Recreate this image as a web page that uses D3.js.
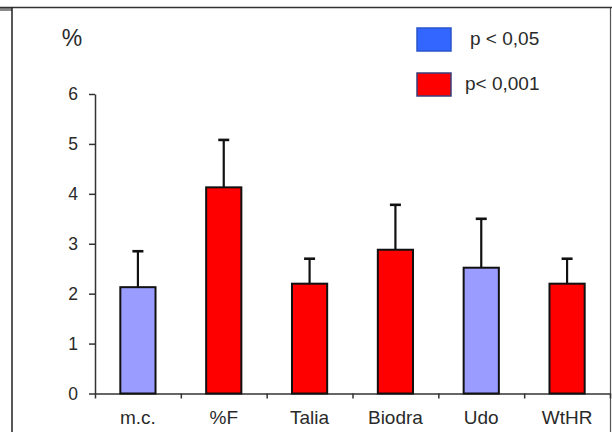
<!DOCTYPE html>
<html>
<head>
<meta charset="utf-8">
<script src="https://cdn.jsdelivr.net/npm/d3@7/dist/d3.min.js"></script>
<style>
  html, body { margin: 0; padding: 0; background: #fff; }
  svg { display: block; }
  text { font-family: "Liberation Sans", Arial, sans-serif; fill: #2a2a2a; }
</style>
</head>
<body>
<svg id="chart" width="612" height="432"></svg>
<script>
// ---- data ----
const categories = ["m.c.", "%F", "Talia", "Biodra", "Udo", "WtHR"];
const values     = [2.13, 4.13, 2.20, 2.88, 2.52, 2.20];
const errors     = [0.72, 0.95, 0.50, 0.90, 0.98, 0.50];
const groups     = ["p05", "p001", "p001", "p001", "p05", "p001"];
const yTicks     = [0, 1, 2, 3, 4, 5, 6];
const legendLabels = ["p < 0,05", "p< 0,001"];
const legendKeys   = ["p05", "p001"];

// ---- styles ----
const barFill   = { p05: "#9a9cff", p001: "#ff0000" };
const legFill   = { p05: "#3366ff", p001: "#ff0000" };
const legStroke = { p05: "#2a55cc", p001: "#3a3f7a" };

const svg = d3.select("#chart");

// frame
svg.append("rect").attr("x", 0).attr("y", 7).attr("width", 12).attr("height", 4).attr("fill", "#8a8a8a");
svg.append("line").attr("x1", 0).attr("x2", 612).attr("y1", 7.5).attr("y2", 7.5)
  .attr("stroke", "#333").attr("stroke-width", 1.5);
svg.append("line").attr("x1", 12).attr("x2", 12).attr("y1", 7).attr("y2", 432)
  .attr("stroke", "#222").attr("stroke-width", 1.5);
svg.append("line").attr("x1", 610.5).attr("x2", 610.5).attr("y1", 8).attr("y2", 432)
  .attr("stroke", "#555").attr("stroke-width", 1.2);

// scales
const pLeft = 95, pRight = 610, pTop = 94, pBottom = 393.5;
const x = d3.scaleBand().domain(categories).range([pLeft, pRight]).padding(0);
const xIdx = d3.scaleLinear().domain([0, categories.length]).range([pLeft, pRight]);
const y = d3.scaleLinear().domain([0, 6]).range([pBottom, pTop]);

// y axis
const yAxis = svg.append("g").attr("transform", `translate(${pLeft},0)`)
  .call(d3.axisLeft(y).tickValues(yTicks).tickSize(6).tickSizeOuter(0).tickPadding(11).tickFormat(d3.format("d")));
yAxis.select(".domain").attr("stroke", "#333").attr("stroke-width", 1.5);
yAxis.selectAll(".tick line").attr("stroke", "#333").attr("stroke-width", 1.5);
yAxis.selectAll(".tick text").style("font-size", "17.5px").style("fill", "#2a2a2a")
  .style("font-family", '"Liberation Sans", Arial, sans-serif');

// x axis (boundary ticks)
const xAxis = svg.append("g").attr("transform", `translate(0,${pBottom})`)
  .call(d3.axisBottom(xIdx).tickValues(d3.range(0, categories.length + 1)).tickSize(5).tickSizeOuter(0).tickFormat(""));
xAxis.select(".domain").attr("stroke", "#333").attr("stroke-width", 1.5);
xAxis.selectAll(".tick line").attr("stroke", "#333").attr("stroke-width", 1.5);

// x labels
svg.append("g").selectAll("text").data(categories).join("text")
  .attr("x", d => x(d) + x.bandwidth() / 2)
  .attr("y", 424)
  .attr("text-anchor", "middle")
  .style("font-size", "19px")
  .text(d => d);

// bars
const bw = x.bandwidth() * 0.41;
const bars = svg.append("g");
bars.selectAll("line.err").data(categories).join("line").attr("class", "err")
  .attr("x1", d => x(d) + x.bandwidth() / 2)
  .attr("x2", d => x(d) + x.bandwidth() / 2)
  .attr("y1", (d, i) => y(values[i]))
  .attr("y2", (d, i) => y(values[i] + errors[i]))
  .attr("stroke", "#111").attr("stroke-width", 2.2);
bars.selectAll("line.cap").data(categories).join("line").attr("class", "cap")
  .attr("x1", d => x(d) + x.bandwidth() / 2 - 5.5)
  .attr("x2", d => x(d) + x.bandwidth() / 2 + 5.5)
  .attr("y1", (d, i) => y(values[i] + errors[i]))
  .attr("y2", (d, i) => y(values[i] + errors[i]))
  .attr("stroke", "#111").attr("stroke-width", 2.6);
bars.selectAll("rect").data(categories).join("rect")
  .attr("x", d => x(d) + (x.bandwidth() - bw) / 2)
  .attr("width", bw)
  .attr("y", (d, i) => y(values[i]))
  .attr("height", (d, i) => y(0) - y(values[i]))
  .attr("fill", (d, i) => barFill[groups[i]])
  .attr("stroke", "#111").attr("stroke-width", 2);

// y unit label
svg.append("text").attr("x", 72).attr("y", 46).attr("text-anchor", "middle")
  .style("font-size", "23px").text("%");

// legend
const leg = svg.append("g");
const legY = [28, 73];
leg.selectAll("rect").data(legendKeys).join("rect")
  .attr("x", 417).attr("y", (d, i) => legY[i]).attr("width", 34).attr("height", 23)
  .attr("fill", d => legFill[d]).attr("stroke", d => legStroke[d]).attr("stroke-width", 1.5);
leg.selectAll("text").data(legendLabels).join("text")
  .attr("x", (d, i) => i === 0 ? 470 : 465)
  .attr("y", (d, i) => legY[i] + 17)
  .style("font-size", "19px")
  .text(d => d);
</script>
</body>
</html>
